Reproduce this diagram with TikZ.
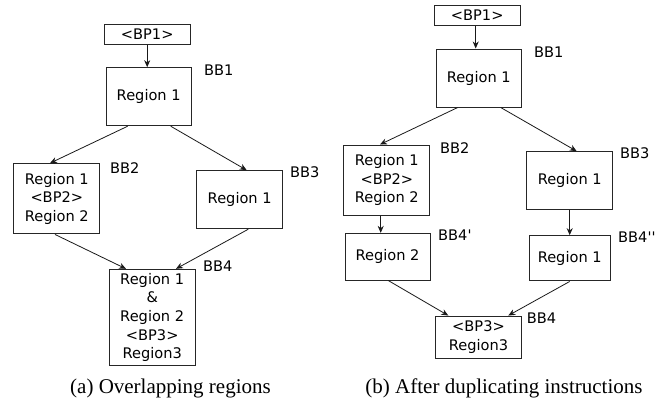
\documentclass[tikz,border=0pt]{standalone}
\usepackage{fontspec}
\setmainfont{DejaVu Sans}
\newfontfamily\captionfont{Liberation Serif}
\usetikzlibrary{arrows.meta,calc}
\begin{document}
\begin{tikzpicture}[x=1pt,y=-1pt,
  every node/.style={font=\fontsize{14.6}{18.7}\selectfont},
  blk/.style={draw=black!85,line width=1pt,rectangle,inner sep=0pt,align=center},
  bblabel/.style={anchor=west,inner sep=0pt},
  arr/.style={-{Stealth[length=7pt,width=6pt]},line width=0.8pt,black!90},
  subcaption/.style={anchor=base,inner sep=0pt,font=\captionfont\fontsize{21}{24}\selectfont}]
\useasboundingbox (0,0) rectangle (671,402);

% ---- (a) overlapping regions ----
\node[blk,minimum width=85.7,minimum height=20.3] (bp1a) at (147.2,34.2) {<BP1>};
\node[blk,minimum width=85.3,minimum height=58] (bb1a) at (148.7,96.7) {Region 1};
\node[blk,minimum width=86.3,minimum height=70.3] (bb2a) at (56.8,198.8) {Region 1\\<BP2>\\Region 2};
\node[blk,minimum width=86,minimum height=58] (bb3a) at (239.7,199.7) {Region 1};
\node[blk,minimum width=85.7,minimum height=96.4] (bb4a) at (152.2,317.5) {Region 1\\\&\\Region 2\\<BP3>\\Region3};

\node[bblabel] (l1a) at (204,70) {BB1};
\node[bblabel] (l2a) at (110,168) {BB2};
\node[bblabel] (l3a) at (290,171.7) {BB3};
\node[bblabel] (l4a) at (203,266) {BB4};

\draw[arr] (bp1a.south) -- (bp1a.south |- bb1a.north);
\draw[arr] ($(bb1a.south)+(-21,0)$) -- ($(bb2a.north)+(-6.8,0)$);
\draw[arr] ($(bb1a.south)+(22,0)$) -- ($(bb3a.north)+(7,0)$);
\draw[arr] ($(bb2a.south)+(-1.8,0)$) -- ($(bb4a.north)+(-26.2,0)$);
\draw[arr] ($(bb3a.south)+(8.6,0)$) -- ($(bb4a.north)+(23.8,0)$);

\node[subcaption] (capa) at (170.5,393) {(a) Overlapping regions};

% ---- (b) after duplicating instructions ----
\node[blk,minimum width=85.7,minimum height=20.4] (bp1b) at (477.2,15.5) {<BP1>};
\node[blk,minimum width=85.3,minimum height=58] (bb1b) at (478.7,78) {Region 1};
\node[blk,minimum width=86.3,minimum height=70] (bb2b) at (386.8,180) {Region 1\\<BP2>\\Region 2};
\node[blk,minimum width=86,minimum height=57.6] (bb3b) at (569.7,180.5) {Region 1};
\node[blk,minimum width=85,minimum height=46.7] (bb4pb) at (387.5,256.7) {Region 2};
\node[blk,minimum width=80.7,minimum height=45.3] (bb4ppb) at (569.7,258.3) {Region 1};
\node[blk,minimum width=86.4,minimum height=42.3] (bb4b) at (478.5,337.2) {<BP3>\\Region3};

\node[bblabel] (l1b) at (534,51.7) {BB1};
\node[bblabel] (l2b) at (440,148.3) {BB2};
\node[bblabel] (l3b) at (620,153.3) {BB3};
\node[bblabel] (l4pb) at (438,235) {BB4\textquotesingle};
\node[bblabel] (l4ppb) at (618,237.3) {BB4\textquotesingle\textquotesingle};
\node[bblabel] (l4b) at (526.7,317.7) {BB4};

\draw[arr] ($(bp1b.south)+(-1.5,0)$) coordinate (s0) -- (s0 |- bb1b.north);
\draw[arr] ($(bb1b.south)+(-21,0)$) -- ($(bb2b.north)+(-6.8,0)$);
\draw[arr] ($(bb1b.south)+(22,0)$) -- ($(bb3b.north)+(7,0)$);
\draw[arr] ($(bb2b.south)+(-6.1,0)$) coordinate (s1) -- (s1 |- bb4pb.north);
\draw[arr] (bb3b.south) -- (bb3b.south |- bb4ppb.north);
\draw[arr] ($(bb4pb.south)+(0.8,0)$) -- ($(bb4b.north)+(-30.2,0)$);
\draw[arr] (bb4ppb.south) -- ($(bb4b.north)+(29.8,0)$);

\node[subcaption] (capb) at (504,393) {(b) After duplicating instructions};
\end{tikzpicture}
\end{document}
